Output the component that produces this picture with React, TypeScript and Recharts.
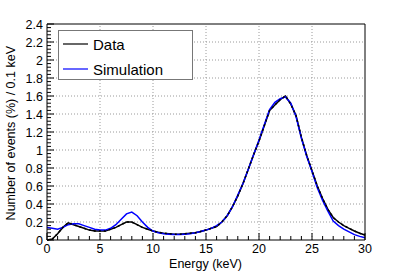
import { LineChart, Line, XAxis, YAxis, ReferenceLine, Label } from 'recharts'

// energy bins (keV) and spectra (% of events / 0.1 keV)
const energy = [
  0, 0.5, 1, 1.5, 2, 2.5, 3, 3.5, 4, 4.5, 5, 5.5, 6, 6.5, 7, 7.5, 8, 8.5, 9, 9.5,
  10, 10.5, 11, 11.5, 12, 12.5, 13, 13.5, 14, 14.5, 15, 15.5, 16, 16.5, 17, 17.5, 18, 18.5, 19, 19.5,
  20, 20.5, 21, 21.5, 22, 22.5, 23, 23.5, 24, 24.5, 25, 25.5, 26, 26.5, 27, 27.5, 28, 28.5, 29, 29.5, 30,
]
const dataCounts = [
  0.0, 0.01, 0.07, 0.14, 0.19, 0.17, 0.15, 0.13, 0.11, 0.1, 0.1, 0.1, 0.12, 0.14, 0.17, 0.2, 0.2, 0.17, 0.14, 0.12,
  0.1, 0.085, 0.075, 0.07, 0.065, 0.065, 0.07, 0.075, 0.08, 0.095, 0.11, 0.13, 0.15, 0.2, 0.27, 0.37, 0.49, 0.63, 0.79, 0.95,
  1.1, 1.27, 1.44, 1.5, 1.56, 1.6, 1.51, 1.38, 1.14, 0.94, 0.77, 0.6, 0.46, 0.34, 0.25, 0.2, 0.16, 0.13, 0.1, 0.075, 0.055,
]
const simCounts = [
  0.14, 0.13, 0.12, 0.14, 0.17, 0.18, 0.18, 0.16, 0.14, 0.12, 0.11, 0.11, 0.13, 0.17, 0.23, 0.29, 0.31, 0.27, 0.2, 0.14,
  0.1, 0.08, 0.07, 0.065, 0.06, 0.06, 0.065, 0.07, 0.08, 0.095, 0.11, 0.13, 0.16, 0.2, 0.27, 0.37, 0.5, 0.63, 0.79, 0.95,
  1.11, 1.28, 1.45, 1.53, 1.57, 1.59, 1.52, 1.37, 1.13, 0.93, 0.76, 0.58, 0.44, 0.32, 0.21, 0.16, 0.12, 0.09, 0.06, 0.04, 0.025,
]

const xMajorTicks = [0, 5, 10, 15, 20, 25, 30]
const yMajorTicks = [0, 0.2, 0.4, 0.6, 0.8, 1, 1.2, 1.4, 1.6, 1.8, 2, 2.2, 2.4]
const xMinorTicks = Array.from({ length: 31 }, (_, i) => i)
const yMinorTicks = Array.from({ length: 61 }, (_, i) => +(i * 0.04).toFixed(2))

const rows = energy.map((e, i) => ({ energy: e, data: dataCounts[i], sim: simCounts[i] }))

const FONT = '"Liberation Sans", Arial, Helvetica, sans-serif'
const BLUE = '#0000ff'

const isMajor = (v: number, list: number[]) => list.some((m) => Math.abs(m - v) < 1e-6)

function XTick({ x, y, payload }: any) {
  const v = payload.value
  const major = isMajor(v, xMajorTicks)
  return (
    <g>
      <line x1={x} x2={x} y1={y} y2={y - (major ? 7 : 4)} stroke="#000" />
      {major && (
        <text x={x} y={y + 13} textAnchor="middle" fontSize={12.5} fontFamily={FONT} fill="#000">
          {v}
        </text>
      )}
    </g>
  )
}

function YTick({ x, y, payload }: any) {
  const v = payload.value
  const major = isMajor(v, yMajorTicks)
  return (
    <g>
      <line x1={x} x2={x + (major ? 7 : 4)} y1={y} y2={y} stroke="#000" />
      {major && (
        <text x={x - 4} y={y + 4.5} textAnchor="end" fontSize={12.5} fontFamily={FONT} fill="#000">
          {String(+v.toFixed(1))}
        </text>
      )}
    </g>
  )
}

export default function App() {
  return (
    <div style={{ position: 'absolute', left: 0, top: 0, width: 399, height: 272, background: '#fff' }}>
      <LineChart width={399} height={272} data={rows} margin={{ top: 24, right: 34, bottom: 0, left: 0 }}>
        {xMajorTicks.slice(1, -1).map((v) => (
          <ReferenceLine key={'gx' + v} x={v} stroke="#9a9a9a" strokeDasharray="1 2" />
        ))}
        {yMajorTicks.slice(1, -1).map((v) => (
          <ReferenceLine key={'gy' + v} y={v} stroke="#9a9a9a" strokeDasharray="1 2" />
        ))}
        <XAxis
          dataKey="energy"
          type="number"
          domain={[0, 30]}
          ticks={xMinorTicks}
          interval={0}
          height={32}
          tickSize={0}
          tickMargin={0}
          tickLine={false}
          axisLine={{ stroke: '#000' }}
          tick={<XTick />}
        >
          <Label
            content={() => (
              <text x={242} y={268} textAnchor="end" fontSize={12.5} fontFamily={FONT} fill="#000">
                Energy (keV)
              </text>
            )}
          />
        </XAxis>
        <YAxis
          type="number"
          domain={[0, 2.4]}
          ticks={yMinorTicks}
          interval={0}
          width={47}
          tickSize={0}
          tickMargin={0}
          tickLine={false}
          axisLine={{ stroke: '#000' }}
          tick={<YTick />}
        >
          <Label
            content={() => (
              <text
                x={15}
                y={46}
                textAnchor="end"
                transform="rotate(-90, 15, 46)"
                fontSize={12.5}
                fontFamily={FONT}
                fill="#000"
              >
                Number of events (%) / 0.1 keV
              </text>
            )}
          />
        </YAxis>
        <Line dataKey="data" type="linear" stroke="#000" strokeWidth={1.5} dot={false} isAnimationActive={false} />
        <Line dataKey="sim" type="linear" stroke={BLUE} strokeWidth={1.5} dot={false} isAnimationActive={false} />
        {/* data markers drawn again on top so the overlapping peak shows both colours */}
        <Line
          dataKey="data"
          type="linear"
          stroke="#000"
          strokeWidth={1.5}
          strokeDasharray="2 3"
          dot={false}
          legendType="none"
          isAnimationActive={false}
        />
        <ReferenceLine y={2.4} stroke="#000" />
        <ReferenceLine x={30} stroke="#000" />
      </LineChart>
      <div
        style={{
          position: 'absolute',
          left: 58,
          top: 30,
          width: 133,
          height: 48,
          border: '1px solid #777',
          background: '#fff',
          fontFamily: FONT,
          fontSize: 15,
        }}
      >
        {[
          { name: 'Data', color: '#000', top: 1 },
          { name: 'Simulation', color: BLUE, top: 26 },
        ].map((item) => (
          <div key={item.name} style={{ position: 'absolute', left: 4, top: item.top, height: 24, display: 'flex', alignItems: 'center' }}>
            <svg width={25} height={4} style={{ marginRight: 5 }}>
              <line x1={0} x2={25} y1={2} y2={2} stroke={item.color} strokeWidth={1.2} />
            </svg>
            <span>{item.name}</span>
          </div>
        ))}
      </div>
    </div>
  )
}
